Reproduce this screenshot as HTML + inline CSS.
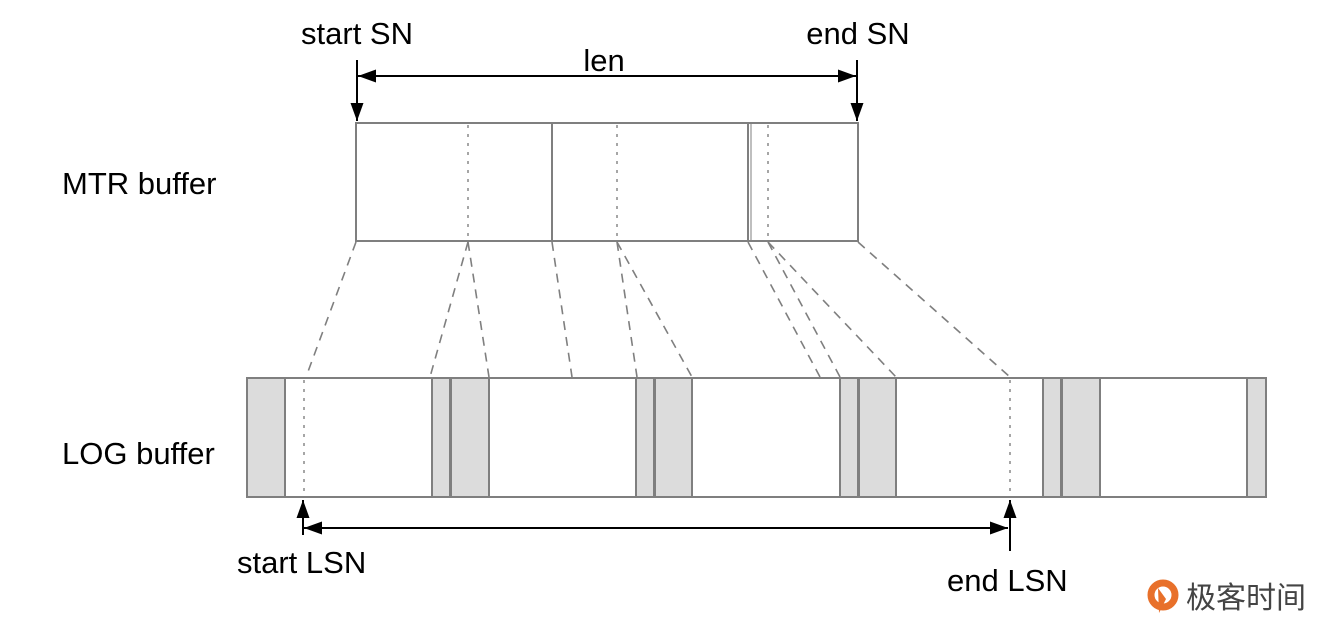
<!DOCTYPE html>
<html><head><meta charset="utf-8"><style>
html,body{margin:0;padding:0;background:#fff;}
svg{display:block;}
text{font-family:"Liberation Sans",Arial,sans-serif;fill:#000;}
</style></head><body>
<svg width="1341" height="641" viewBox="0 0 1341 641" xmlns="http://www.w3.org/2000/svg">
<defs>
<marker id="ah" viewBox="0 0 10 10" refX="10" refY="5" markerWidth="18" markerHeight="13" markerUnits="userSpaceOnUse" orient="auto" preserveAspectRatio="none"><path d="M0,0 L10,5 L0,10 z" fill="#000"/></marker>
</defs>
<!-- labels -->
<text x="357" y="44" font-size="31" text-anchor="middle">start SN</text>
<text x="858" y="44" font-size="31" text-anchor="middle">end SN</text>
<text x="604" y="71" font-size="31" text-anchor="middle">len</text>
<text x="62" y="194" font-size="31">MTR buffer</text>
<text x="62" y="464" font-size="31">LOG buffer</text>
<text x="237" y="573" font-size="31">start LSN</text>
<text x="947" y="591" font-size="31">end LSN</text>
<!-- top arrows -->
<line x1="357" y1="60" x2="357" y2="121" stroke="#000" stroke-width="2" marker-end="url(#ah)"/>
<line x1="857" y1="60" x2="857" y2="121" stroke="#000" stroke-width="2" marker-end="url(#ah)"/>
<line x1="380" y1="76" x2="358" y2="76" stroke="#000" stroke-width="2" marker-end="url(#ah)"/>
<line x1="370" y1="76" x2="856" y2="76" stroke="#000" stroke-width="2" marker-end="url(#ah)"/>
<!-- MTR buffer -->
<g stroke="#7f7f7f" stroke-width="2" fill="none">
<rect x="356" y="123" width="502" height="118" fill="#fff"/>
<line x1="552" y1="123" x2="552" y2="241"/>
<line x1="748" y1="123" x2="748" y2="241"/>
<line x1="751" y1="123" x2="751" y2="241" stroke-width="1"/>
</g>
<g stroke="#888" stroke-width="1.5" stroke-dasharray="3,6" fill="none">
<line x1="468" y1="125" x2="468" y2="240"/>
<line x1="617" y1="125" x2="617" y2="240"/>
<line x1="768" y1="125" x2="768" y2="240"/>
</g>
<!-- dashed connectors -->
<g stroke="#7f7f7f" stroke-width="1.6" stroke-dasharray="9,7" fill="none">
<line x1="356" y1="242" x2="306" y2="377"/>
<line x1="468" y1="242" x2="430" y2="377"/>
<line x1="468" y1="242" x2="489" y2="377"/>
<line x1="552" y1="242" x2="572" y2="377"/>
<line x1="617" y1="242" x2="637" y2="377"/>
<line x1="617" y1="242" x2="692" y2="377"/>
<line x1="748" y1="242" x2="820" y2="377"/>
<line x1="768" y1="242" x2="840" y2="377"/>
<line x1="768" y1="242" x2="896" y2="377"/>
<line x1="858" y1="242" x2="1010" y2="377"/>
</g>
<!-- LOG buffer -->
<g stroke="#7f7f7f" stroke-width="2">
<rect x="247" y="378" width="1019" height="119" fill="#fff"/>
<rect x="247" y="378" width="38" height="119" fill="#dcdcdc"/>
<rect x="432" y="378" width="18" height="119" fill="#dcdcdc"/>
<rect x="451" y="378" width="38" height="119" fill="#dcdcdc"/>
<rect x="636" y="378" width="18" height="119" fill="#dcdcdc"/>
<rect x="655" y="378" width="37" height="119" fill="#dcdcdc"/>
<rect x="840" y="378" width="18" height="119" fill="#dcdcdc"/>
<rect x="859" y="378" width="37" height="119" fill="#dcdcdc"/>
<rect x="1043" y="378" width="18" height="119" fill="#dcdcdc"/>
<rect x="1062" y="378" width="38" height="119" fill="#dcdcdc"/>
<rect x="1247" y="378" width="19" height="119" fill="#dcdcdc"/>
</g>
<g stroke="#888" stroke-width="1.5" stroke-dasharray="3,6" fill="none">
<line x1="304" y1="380" x2="304" y2="496"/>
<line x1="1010" y1="380" x2="1010" y2="496"/>
</g>
<!-- bottom arrows -->
<line x1="303" y1="535" x2="303" y2="500" stroke="#000" stroke-width="2" marker-end="url(#ah)"/>
<line x1="1010" y1="551" x2="1010" y2="500" stroke="#000" stroke-width="2" marker-end="url(#ah)"/>
<line x1="325" y1="528" x2="304" y2="528" stroke="#000" stroke-width="2" marker-end="url(#ah)"/>
<line x1="315" y1="528" x2="1008" y2="528" stroke="#000" stroke-width="2" marker-end="url(#ah)"/>
<!-- logo -->
<circle cx="1163" cy="595" r="12" fill="none" stroke="#e8702a" stroke-width="7"/>
<path d="M1158,588 L1166,599 L1159,613 Z" fill="#e8702a"/>
<text x="1186" y="608" font-size="30" style="font-family:'Noto Sans CJK SC',sans-serif;fill:#444">极客时间</text>
</svg>
</body></html>
